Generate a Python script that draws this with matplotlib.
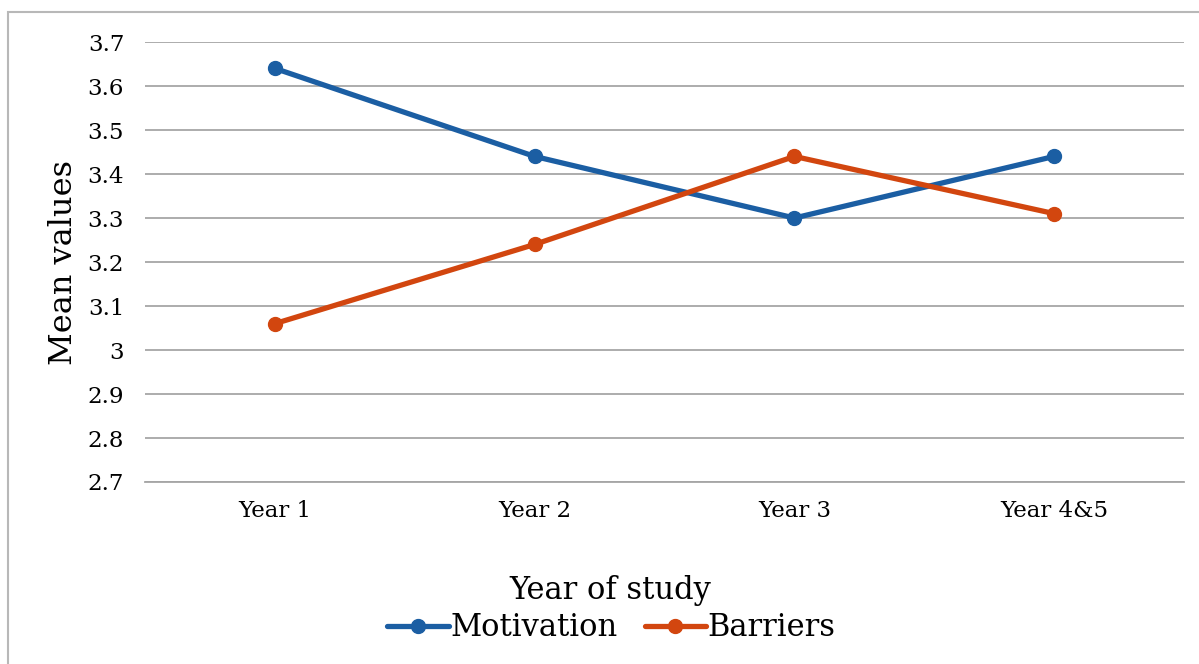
import matplotlib
matplotlib.use("Agg")
from matplotlib import pyplot as plt, patches

years = ["Year 1", "Year 2", "Year 3", "Year 4&5"]
motivation = [3.64, 3.44, 3.30, 3.44]
barriers = [3.06, 3.24, 3.44, 3.31]
y_ticks = [2.7, 2.8, 2.9, 3.0, 3.1, 3.2, 3.3, 3.4, 3.5, 3.6, 3.7]
y_tick_labels = ["2.7", "2.8", "2.9", "3", "3.1", "3.2", "3.3", "3.4", "3.5", "3.6", "3.7"]

plt.rcParams['font.family'] = ['DejaVu Serif']

fig = plt.figure(figsize=(11.99, 6.64), dpi=100)
ax = fig.add_axes([0.121, 0.2741, 0.8665, 0.6626])

# outer frame like the original screenshot
W, H = 1199, 664
frame = patches.Rectangle((8 / W, -0.1), 1.2, (664 - 12) / H + 0.1,
                          transform=fig.transFigure, fill=False,
                          edgecolor='#b8b8b8', linewidth=1.5)
fig.patches.append(frame)

xs = range(len(years))
blue = '#1b5ea3'
orange = '#d2460f'
ax.plot(xs, motivation, color=blue, linewidth=3.8, marker='o', markersize=10,
        label='Motivation', solid_capstyle='round')
ax.plot(xs, barriers, color=orange, linewidth=3.8, marker='o', markersize=10,
        label='Barriers', solid_capstyle='round')

ax.set_xlim(-0.5, len(years) - 0.5)
ax.set_ylim(2.7, 3.7)
ax.set_yticks(y_ticks)
ax.set_yticklabels(y_tick_labels)
ax.set_xticks(list(xs))
ax.set_xticklabels(years)
ax.tick_params(axis='both', length=0, labelsize=16.5)
ax.tick_params(axis='y', pad=15)
ax.tick_params(axis='x', pad=13)

ax.grid(axis='y', color='#a6a6a6', linewidth=1.3)
ax.set_axisbelow(True)
for s in ['top', 'right', 'left']:
    ax.spines[s].set_visible(False)
ax.spines['bottom'].set_color('#a6a6a6')
ax.spines['bottom'].set_linewidth(1.3)

ax.set_ylabel('Mean values', fontsize=23)
ax.yaxis.set_label_coords(-0.064, 0.5)
ax.set_xlabel('Year of study', fontsize=22)
ax.xaxis.set_label_coords(0.4475, -0.212)

fig.legend(loc='center', bbox_to_anchor=(0.51, 1 - 628 / H), ncol=2,
           frameon=False, fontsize=22, handlelength=2.0, handletextpad=0.05,
           columnspacing=0.9)

fig.savefig('out.png', dpi=100)
